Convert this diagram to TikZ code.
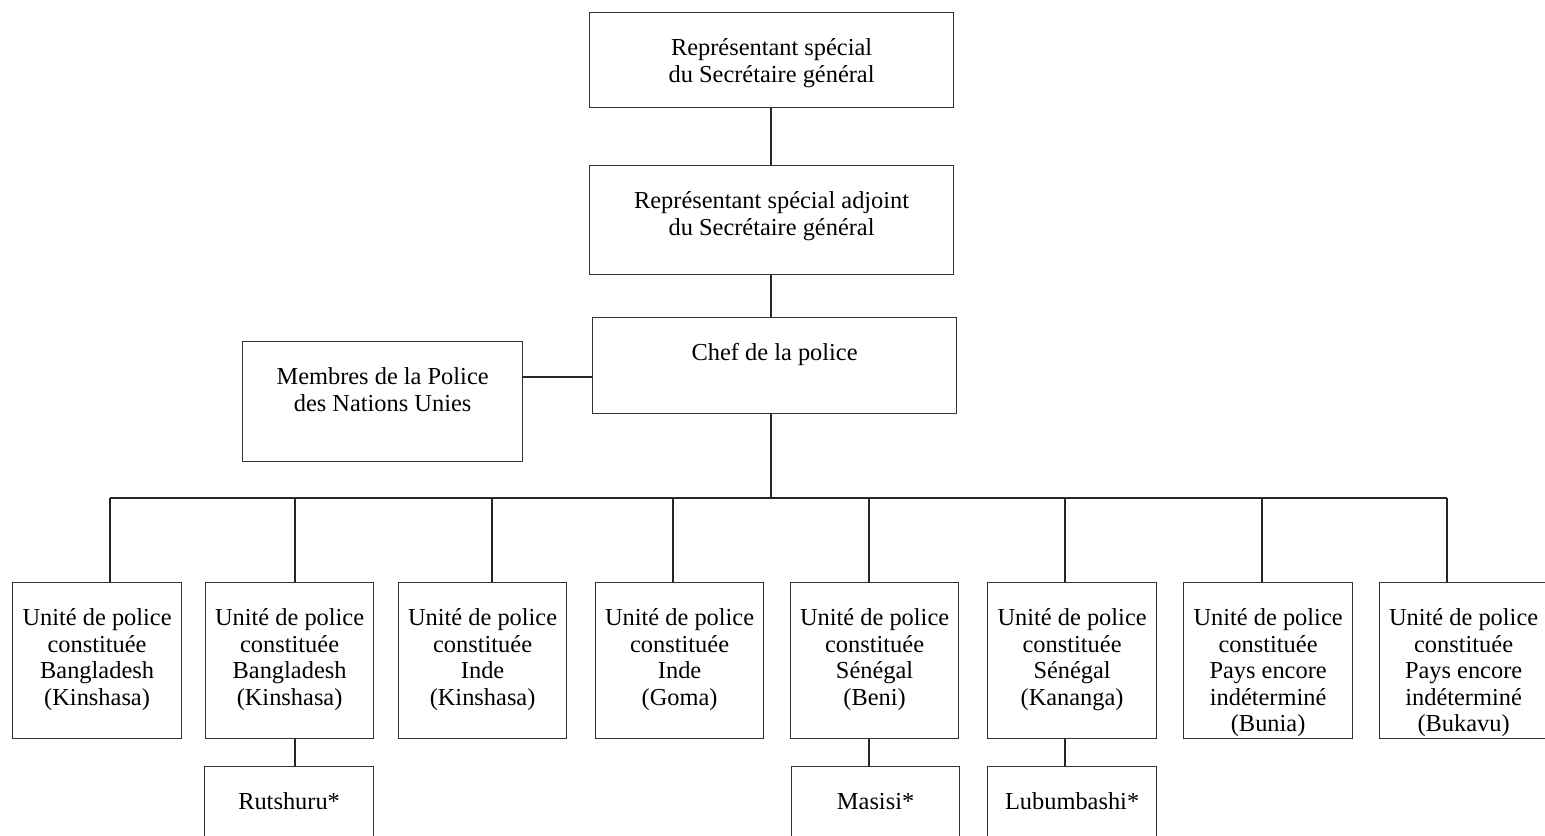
\documentclass[tikz,border=0pt]{standalone}
\usepackage{fontspec}
\setmainfont{Liberation Serif}
\newdimen\unitpx
\unitpx=0.5pt
% box content: width and height in px, text hung from the top
\newcommand\boxtext[3]{\parbox[t][#2\unitpx][t]{#1\unitpx}{\centering\rule{0pt}{43\unitpx}#3}}
\tikzset{
  orgbox/.style={draw=black!80, line width=0.6pt, inner sep=0pt, anchor=north west,
    font=\fontsize{12.2}{13.25}\selectfont},
  link/.style={draw=black!85, line width=0.6pt},
}
\begin{document}
\begin{tikzpicture}[x=0.5pt, y=-0.5pt]
\useasboundingbox (0,0) rectangle (1545,835);
\clip (0,0) rectangle (1545,835);

% top of the hierarchy
\node[orgbox] (rs)   at (589,12)  {\boxtext{364}{95}{Représentant spécial\\du Secrétaire général}};
\node[orgbox] (rsa)  at (589,165) {\boxtext{364}{109}{Représentant spécial adjoint\\du Secrétaire général}};
\node[orgbox] (chef) at (592,317) {\boxtext{364}{96}{Chef de la police}};
\node[orgbox] (memb) at (242,341) {\boxtext{280}{120}{Membres de la Police\\des Nations Unies}};

% formed police units
\node[orgbox] (u1) at (12,582)   {\boxtext{169}{156}{Unité de police\\constituée\\Bangladesh\\(Kinshasa)}};
\node[orgbox] (u2) at (205,582)  {\boxtext{168}{156}{Unité de police\\constituée\\Bangladesh\\(Kinshasa)}};
\node[orgbox] (u3) at (398,582)  {\boxtext{168}{156}{Unité de police\\constituée\\Inde\\(Kinshasa)}};
\node[orgbox] (u4) at (595,582)  {\boxtext{168}{156}{Unité de police\\constituée\\Inde\\(Goma)}};
\node[orgbox] (u5) at (790,582)  {\boxtext{168}{156}{Unité de police\\constituée\\Sénégal\\(Beni)}};
\node[orgbox] (u6) at (987,582)  {\boxtext{169}{156}{Unité de police\\constituée\\Sénégal\\(Kananga)}};
\node[orgbox] (u7) at (1183,582) {\boxtext{169}{156}{Unité de police\\constituée\\Pays encore\\indéterminé\\(Bunia)}};
\node[orgbox] (u8) at (1379,582) {\boxtext{168}{156}{Unité de police\\constituée\\Pays encore\\indéterminé\\(Bukavu)}};

% detachments
\node[orgbox] (s1) at (204,766) {\boxtext{169}{110}{Rutshuru*}};
\node[orgbox] (s2) at (791,766) {\boxtext{168}{110}{Masisi*}};
\node[orgbox] (s3) at (987,766) {\boxtext{169}{110}{Lubumbashi*}};

% drop points on the distribution line
\coordinate (hub) at (771,498);
\coordinate (d1) at (110,498);
\coordinate (d2) at (295,498);
\coordinate (d3) at (492,498);
\coordinate (d4) at (673,498);
\coordinate (d5) at (869,498);
\coordinate (d6) at (1065,498);
\coordinate (d7) at (1262,498);
\coordinate (d8) at (1447,498);
\coordinate (mlink) at (522,377);

% connectors
\draw[link] (rs.south -| hub) -- (rsa.north -| hub);
\draw[link] (rsa.south -| hub) -- (chef.north -| hub);
\draw[link] (chef.south -| hub) -- (hub);
\draw[link] (mlink) -- (mlink -| chef.west);
\draw[link] (d1) -- (d8);
\foreach \i in {1,...,8} {
  \draw[link] (d\i) -- (d\i |- u\i.north);
}
\draw[link] (d2 |- u2.south) -- (d2 |- s1.north);
\draw[link] (d5 |- u5.south) -- (d5 |- s2.north);
\draw[link] (d6 |- u6.south) -- (d6 |- s3.north);
\end{tikzpicture}
\end{document}
